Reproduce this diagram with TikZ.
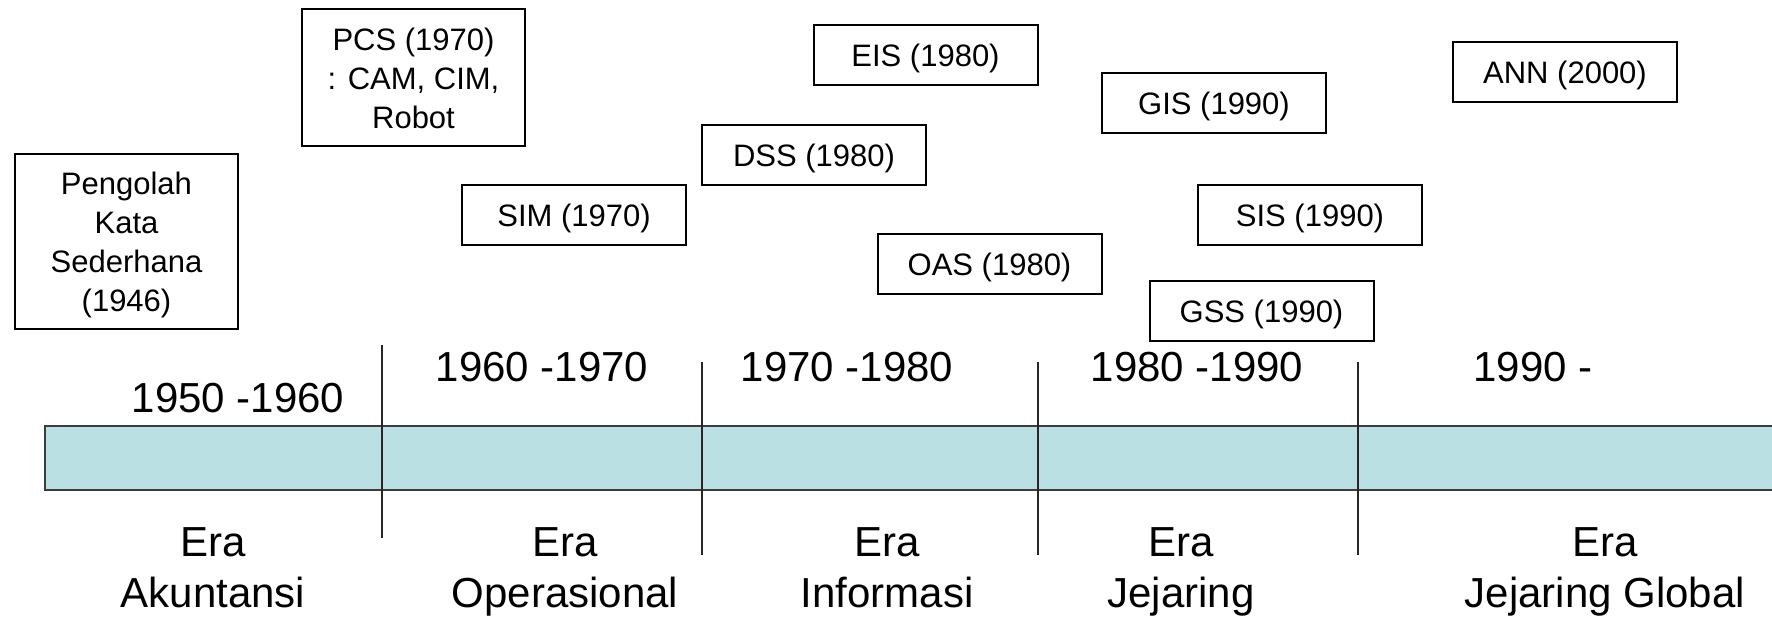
\documentclass[tikz,border=0pt]{standalone}
\usepackage{fontspec}
\setmainfont{Liberation Sans}
\definecolor{barfill}{RGB}{186,224,227}
\definecolor{bardraw}{RGB}{60,60,60}
\begin{document}
\begin{tikzpicture}[x=0.5pt,y=-0.5pt,
  evbox/.style={draw=black,line width=1pt,minimum width=112pt,minimum height=30pt,
    align=center,inner sep=0pt,font=\fontsize{15.5}{19.5}\selectfont},
  onebox/.style={evbox,text height=14.4pt,text depth=3.25pt},
  yearlbl/.style={anchor=base,inner sep=0pt,font=\fontsize{21}{25.5}\selectfont},
  eralbl/.style={anchor=north,inner sep=0pt,align=center,font=\fontsize{21}{25.5}\selectfont},
  divider/.style={line width=0.8pt,draw=black!85}]
\useasboundingbox (0,0) rectangle (1772,619);
\clip (0,0) rectangle (1772,619);
% boxes
\node[evbox,minimum width=111.5pt,minimum height=87.5pt,text depth=0pt] (peng) at (126.5,241.5) {Pengolah\\Kata\\Sederhana\\(1946)};
\node[evbox,minimum width=111.5pt,minimum height=68.5pt] (pcs) at (413.5,78) {PCS (1970)\\: CAM, CIM,\\Robot};
\node[onebox] (sim) at (574,215.5) {SIM (1970)};
\node[onebox] (eis) at (925.5,55.5) {EIS (1980)};
\node[onebox] (dss) at (814,155.5) {DSS (1980)};
\node[onebox] (oas) at (989.5,264) {OAS (1980)};
\node[onebox] (gis) at (1214,103.5) {GIS (1990)};
\node[onebox] (sis) at (1310,215.5) {SIS (1990)};
\node[onebox] (gss) at (1261.5,311.5) {GSS (1990)};
\node[onebox] (ann) at (1565,72) {ANN (2000)};
% bar
\path[fill=barfill,draw=bardraw,line width=1.1pt] (45,426) rectangle (1790,490);
% dividers
\coordinate (d1t) at (382,345); \coordinate (d1b) at (382,538);
\coordinate (d2t) at (702,362); \coordinate (d2b) at (702,555);
\coordinate (d3t) at (1038,362); \coordinate (d3b) at (1038,555);
\coordinate (d4t) at (1358,362); \coordinate (d4b) at (1358,555);
\draw[divider] (d1t) -- (d1b);
\draw[divider] (d2t) -- (d2b);
\draw[divider] (d3t) -- (d3b);
\draw[divider] (d4t) -- (d4b);
% years
\node[yearlbl] (y1) at (238,413) {1950 -1960};
\node[yearlbl] (y2) at (542,382) {1960 -1970};
\node[yearlbl] (y3) at (847,382) {1970 -1980};
\node[yearlbl] (y4) at (1197,382) {1980 -1990};
\node[yearlbl] (y5) at (1533,382) {1990 -};
% eras
\node[eralbl] (e1) at (213,527) {Era\\Akuntansi};
\node[eralbl] (e2) at (565,527) {Era\\Operasional};
\node[eralbl] (e3) at (887,527) {Era\\Informasi};
\node[eralbl] (e4) at (1181,527) {Era\\Jejaring};
\node[eralbl] (e5) at (1605,527) {Era\\Jejaring Global};
\end{tikzpicture}
\end{document}
